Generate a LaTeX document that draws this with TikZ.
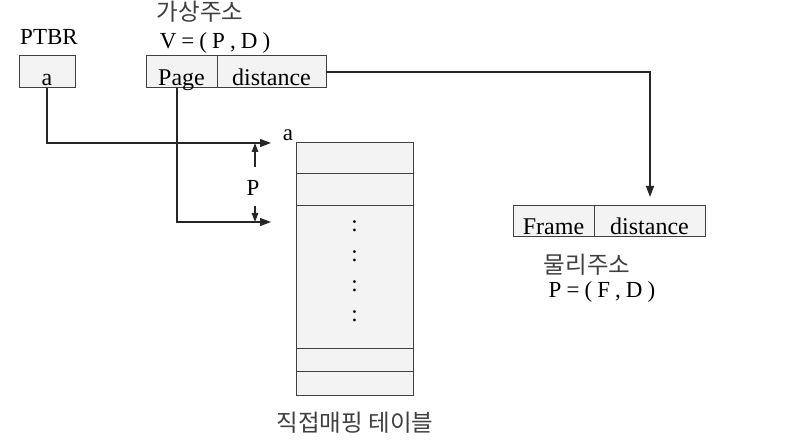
\documentclass[tikz,border=0pt]{standalone}
\usepackage{fontspec}
\setmainfont{Liberation Serif}
\newfontfamily\kr{Noto Sans CJK KR}
\usetikzlibrary{arrows.meta,calc}
\definecolor{boxfill}{HTML}{F3F3F3}
\definecolor{boxline}{HTML}{404040}
\newcommand{\gp}{\hspace{0.22em}}
\tikzset{
  cell/.style={draw=boxline,line width=1pt,fill=boxfill,inner sep=0pt,outer sep=0pt,
    text height=30pt,text depth=2pt,font=\fontsize{24}{24}\selectfont},
  lbl/.style={inner sep=0pt,font=\fontsize{23}{23}\selectfont},
  krl/.style={inner sep=0pt,font=\kr\fontsize{23.5}{23.5}\selectfont,text=black!75},
  conn/.style={line width=1.2pt,black!85},
  arr/.style={conn,-{Triangle[length=11pt,width=8pt]}},
  sarr/.style={conn,-{Triangle[length=9pt,width=6.5pt]}},
  tabrow/.style={draw=boxline,line width=1pt,fill=boxfill,inner sep=0pt,outer sep=0pt,minimum width=117pt}
}
\begin{document}
\begin{tikzpicture}[x=1pt,y=-1pt]
\useasboundingbox (0,0) rectangle (805,446);
% PTBR
\node[cell,minimum width=56pt,minimum height=32pt] (ptbr) at (47,72) {a};
\node[lbl,anchor=base] (ptbrlbl) at (49,45) {PTBR};
% virtual address
\node[cell,minimum width=71pt,minimum height=32pt] (page) at (181.5,72) {Page};
\node[cell,minimum width=109pt,minimum height=32pt] (dist) at (271.5,72) {distance};
\node[krl] (valbl) at (200,12) {가상주소};
\node[lbl,anchor=base] (vform) at (215,49) {V\gp=\gp(\gp P\gp,\gp D\gp)};
% physical address
\node[cell,minimum width=81pt,minimum height=31pt,text height=29pt] (frame) at (553.5,221.5) {Frame};
\node[cell,minimum width=111pt,minimum height=31pt,text height=29pt] (pdist) at (649.5,221.5) {distance};
\node[krl] (palbl) at (587,265) {물리주소};
\node[lbl,anchor=base] (pform) at (602,297) {P\gp=\gp(\gp F\gp,\gp D\gp)};
% table
\node[tabrow,minimum height=31pt] (r1) at (354.5,158.5) {};
\node[tabrow,minimum height=32pt] (r2) at (354.5,190) {};
\node[tabrow,minimum height=142pt] (r3) at (354.5,277) {};
\node[tabrow,minimum height=23pt] (r4) at (354.5,359.5) {};
\node[tabrow,minimum height=24pt] (r5) at (354.5,383) {};
\foreach \yy/\nm in {226/d1,256/d2,286/d3,316/d4}
  \node[lbl] (\nm) at (354.5,\yy) {:};
\node[lbl,anchor=base] (alabel) at (288,141) {a};
\node[krl] (tablbl) at (355,423) {직접매핑 테이블};
% connectors
\coordinate (aend) at (271,143);
\coordinate (pend) at (271,222);
\draw[arr] (ptbr.south) |- (aend);
\draw[arr] (177,0 |- page.south) |- (pend);
\draw[arr] (dist.east) -| ([yshift=9pt]pdist.north -| 650,0);
% P offset
\coordinate (pu1) at (255,167);
\coordinate (pu2) at (255,143);
\coordinate (pd1) at (255,206);
\coordinate (pd2) at (255,222);
\draw[sarr] (pu1) -- (pu2);
\draw[sarr] (pd1) -- (pd2);
\node[lbl,anchor=base] (plbl) at (253,196) {P};
\end{tikzpicture}
\end{document}
